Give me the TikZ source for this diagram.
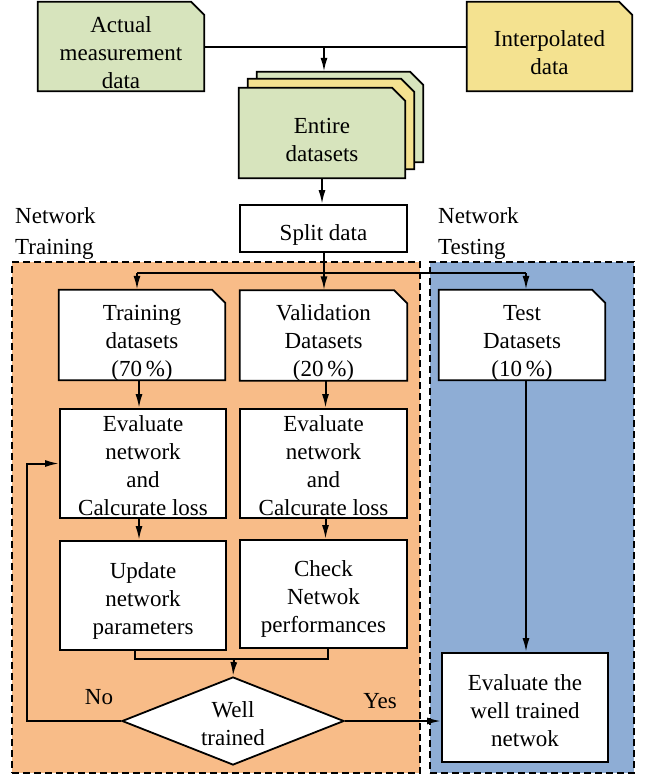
\documentclass[tikz,border=0pt]{standalone}
\usepackage{fontspec}
\setmainfont{Liberation Serif}
\usetikzlibrary{shapes.geometric,arrows.meta,calc}
\definecolor{docgreen}{HTML}{D7E4BD}
\definecolor{docyellow}{HTML}{F4E290}
\definecolor{trainorange}{HTML}{F8BC88}
\definecolor{testblue}{HTML}{8EADD5}
\tikzset{
  txt/.style={font=\rmfamily\fontsize{23}{28}\selectfont, align=center, inner sep=0pt},
  base/.style={inner sep=0pt, line width=1.8pt, draw=black, fill=white},
  doc/.style={rectangle, inner sep=0pt, draw=none},
  docline/.style={line width=1.8pt, draw=black},
  box/.style={base, rectangle},
  region/.style={rectangle, draw=black, line width=1.4pt, dash pattern=on 7pt off 4pt, inner sep=0pt},
  conn/.style={line width=2pt},
  arr/.style={line width=2pt, -{Latex[length=14pt,width=7pt]}},
  lbl/.style={font=\rmfamily\fontsize{23}{28}\selectfont, inner sep=0pt}
}
\newcommand\docshape[2]{\filldraw[docline, fill=#2] (#1.south west) -- (#1.north west) -- ([xshift=-13pt]#1.north east) -- ([yshift=-13pt]#1.north east) -- (#1.south east) -- cycle;}
\begin{document}
\begin{tikzpicture}[x=1pt,y=-1pt]
\useasboundingbox (0,0) rectangle (649,778);
\fill[white] (0,0) rectangle (649,778);
% regions
\node[region, fill=trainorange, minimum width=408pt, minimum height=511pt] (trainreg) at (216,517.5) {};
\node[region, fill=testblue, minimum width=204pt, minimum height=511pt] (testreg) at (532,517.5) {};
\node[lbl, anchor=base west] (ntr1) at (15,223) {Network};
\node[lbl, anchor=base west] (ntr2) at (15,254) {Training};
\node[lbl, anchor=base west] (nte1) at (438,223) {Network};
\node[lbl, anchor=base west] (nte2) at (438,254) {Testing};
% top docs
\node[doc, minimum width=166pt, minimum height=89pt] (actual) at (121,46.5) {};
\docshape{actual}{docgreen}
\node[txt] (actualT) at ($(actual)+(0,6.5)$) {Actual\\measurement\\data};
\node[doc, minimum width=165pt, minimum height=89pt] (interp) at (549.5,46.5) {};
\docshape{interp}{docyellow}
\node[txt] (interpT) at ($(interp)+(0,6.5)$) {Interpolated\\data};
% stack
\node[doc, minimum width=166pt, minimum height=90pt] (back) at (340,117) {};
\docshape{back}{docgreen}
\node[doc, minimum width=166pt, minimum height=90pt] (mid) at (331,124) {};
\docshape{mid}{docyellow}
\node[doc, minimum width=166pt, minimum height=90pt] (entire) at (322,133) {};
\docshape{entire}{docgreen}
\node[txt] (entireT) at ($(entire)+(0,7)$) {Entire\\datasets};
\node[box, minimum width=167pt, minimum height=47pt] (split) at (323.5,228.5) {};
\node[txt] (splitT) at ($(split)+(0,6)$) {Split data};
% datasets
\node[doc, minimum width=166pt, minimum height=90pt] (train) at (142,335) {};
\docshape{train}{white}
\node[txt] (trainT) at ($(train)+(0,8)$) {Training\\datasets\\(70\,\%)};
\node[doc, minimum width=167pt, minimum height=90pt] (valid) at (323.5,335.5) {};
\docshape{valid}{white}
\node[txt] (validT) at ($(valid)+(0,7.5)$) {Validation\\Datasets\\(20\,\%)};
\node[doc, minimum width=166pt, minimum height=90pt] (test) at (522,335) {};
\docshape{test}{white}
\node[txt] (testT) at ($(test)+(0,8)$) {Test\\Datasets\\(10\,\%)};
\node[box, minimum width=166pt, minimum height=109pt] (eval1) at (143,463.5) {};
\node[txt] (eval1T) at ($(eval1)+(0,2)$) {Evaluate\\network\\and\\Calcurate loss};
\node[box, minimum width=167pt, minimum height=109pt] (eval2) at (323.5,463.5) {};
\node[txt] (eval2T) at ($(eval2)+(0,2)$) {Evaluate\\network\\and\\Calcurate loss};
\node[box, minimum width=166pt, minimum height=109pt] (update) at (143,595.5) {};
\node[txt] (updateT) at ($(update)+(0,5)$) {Update\\network\\parameters};
\node[box, minimum width=167pt, minimum height=108pt] (check) at (323.5,594) {};
\node[txt] (checkT) at ($(check)+(0,5)$) {Check\\Netwok\\performances};
\node[base, diamond, minimum width=222pt, minimum height=88pt] (well) at (233,721) {};
\node[txt] (wellT) at ($(well)+(0,2.5)$) {Well\\trained};
\node[box, minimum width=166pt, minimum height=109pt] (final) at (525,707.5) {};
\node[txt] (finalT) at ($(final)+(0,3)$) {Evaluate the\\well trained\\netwok};
\node[lbl, anchor=base] (no) at (99,704) {No};
\node[lbl, anchor=base] (yes) at (380,708) {Yes};
% connectors
\draw[conn] (actual.east |- 0,47) -- (interp.west |- 0,47);
\coordinate (j1) at (324,47);
\draw[arr] (j1) -- (j1 |- back.north);
\draw[arr] (entire.south) -- (entire.south |- split.north);
\coordinate (j2) at (324,273);
\draw[conn] (split.south -| j2) -- (j2);
\coordinate (jl) at (137,273);
\coordinate (jr) at (526,273);
\draw[conn] (jl) -- (jr);
\draw[arr] (jl) -- (jl |- train.north);
\draw[arr] (j2) -- (j2 |- valid.north);
\draw[arr] (jr) -- (jr |- test.north);
\draw[arr] ([xshift=-3pt]train.south) -- ([xshift=-3pt]train.south |- eval1.north);
\draw[arr] ([xshift=2pt]valid.south) -- ([xshift=2pt]valid.south |- eval2.north);
\draw[arr] ([xshift=-4pt]eval1.south) -- ([xshift=-4pt]eval1.south |- update.north);
\draw[arr] ([xshift=2pt]eval2.south) -- ([xshift=2pt]eval2.south |- check.north);
\coordinate (jb) at (234,659);
\draw[conn] ([xshift=-8pt]update.south) |- (jb) -| ([xshift=4pt]check.south);
\draw[arr] (jb) -- (well.north);
\coordinate (loopc) at (27,721);
\draw[arr] (well.west) -- (loopc) |- (eval1.west);
\draw[arr] (well.east) -- (well.east -| final.west);
\draw[arr] (jr |- test.south) -- (jr |- final.north);
\end{tikzpicture}
\end{document}
